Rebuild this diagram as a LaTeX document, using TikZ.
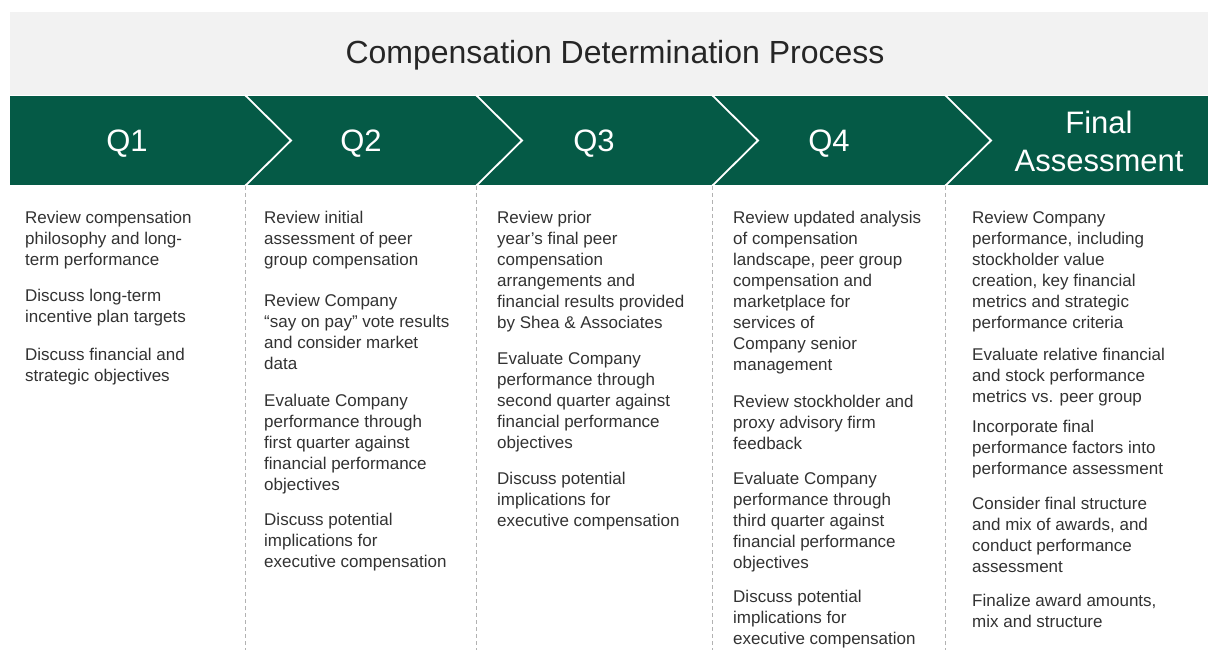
\documentclass[tikz,border=0pt]{standalone}
\usepackage{fontspec}
\setmainfont{Liberation Sans}
\usetikzlibrary{positioning}
\definecolor{bandgreen}{RGB}{5,90,70}
\definecolor{bandgray}{RGB}{242,242,242}
\definecolor{bodytext}{RGB}{50,50,50}

\begin{document}
\begin{tikzpicture}[
    x=1pt, y=-1pt,
    phase/.style={text=white, font=\fontsize{31}{38}\selectfont, align=center},
    steps/.style={anchor=north west, inner sep=0pt, text=bodytext, align=left,
                  font=\fontsize{17}{21}\selectfont},
    chevron/.style={draw=white, line width=1.8pt},
    divider/.style={draw=black!30, line width=0.9pt, dash pattern=on 4pt off 3pt},
  ]
    \useasboundingbox (0,0) rectangle (1208,650);
    \fill[bandgray] (10,12) rectangle (1208,95);
    \fill[bandgreen] (10,96) rectangle (1208,185);
    \node[text=black!85, font=\fontsize{32}{38}\selectfont] (title) at (615,55)
      {Compensation Determination Process};

    \foreach \x in {245,476,712,945} {
      \draw[chevron] (\x,95) -- (\x+46,140.5) -- (\x,186);
      \draw[divider] (\x,186) -- (\x,650);
    }

    \node[phase] (q1) at (127,144) {Q1};
    \node[phase] (q2) at (361,144) {Q2};
    \node[phase] (q3) at (594,144) {Q3};
    \node[phase] (q4) at (829,144) {Q4};
    \node[phase] (final) at (1099,141) {Final\\Assessment};

    \node[steps] (col1) at (25,211) {Review compensation\\philosophy and long-\\term performance\\[15pt]
      Discuss long-term\\incentive plan targets\\[17pt]
      Discuss financial and\\strategic objectives};
    \node[steps] (col2) at (264,211) {Review initial\\assessment of peer\\group compensation\\[20pt]
      Review Company\\“say on pay” vote results\\and consider market\\data\\[16pt]
      Evaluate Company\\performance through\\first quarter against\\financial performance\\objectives\\[14pt]
      Discuss potential\\implications for\\executive compensation};
    \node[steps] (col3) at (497,211) {Review prior\\year’s final peer\\compensation\\arrangements and\\financial results provided\\by Shea \& Associates\\[15pt]
      Evaluate Company\\performance through\\second quarter against\\financial performance\\objectives\\[15pt]
      Discuss potential\\implications for\\executive compensation};
    \node[steps] (col4) at (733,211) {Review updated analysis\\of compensation\\landscape, peer group\\compensation and\\marketplace for\\services of\\Company senior\\management\\[16pt]
      Review stockholder and\\proxy advisory firm\\feedback\\[14pt]
      Evaluate Company\\performance through\\third quarter against\\financial performance\\objectives\\[13pt]
      Discuss potential\\implications for\\executive compensation};
    \node[steps] (col5) at (972,211) {Review Company\\performance, including\\stockholder value\\creation, key financial\\metrics and strategic\\performance criteria\\[11pt]
      Evaluate relative financial\\and stock performance\\metrics vs. peer group\\[9pt]
      Incorporate final\\performance factors into\\performance assessment\\[14pt]
      Consider final structure\\and mix of awards, and\\conduct performance\\assessment\\[13pt]
      Finalize award amounts,\\mix and structure};
\end{tikzpicture}
\end{document}
